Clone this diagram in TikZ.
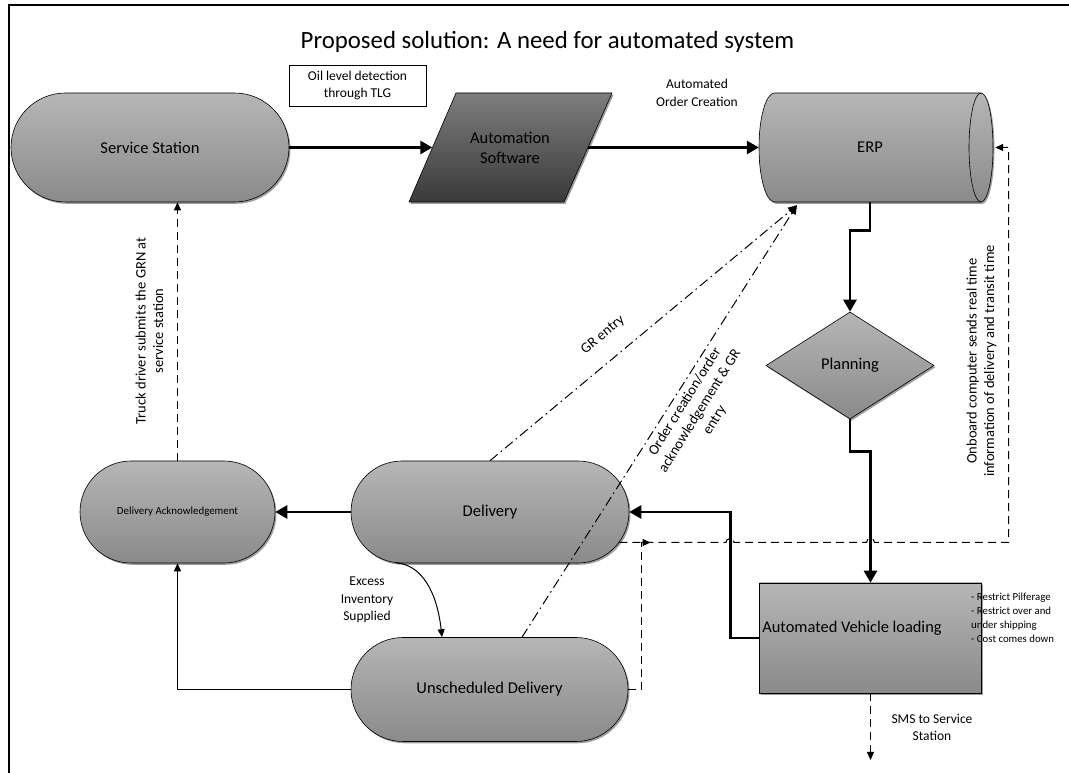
\documentclass[tikz,border=0pt]{standalone}
\usepackage{fontspec}
\setmainfont{Carlito}
\usetikzlibrary{arrows.meta,shapes.geometric,shadows,calc}
\definecolor{ltop}{RGB}{182,182,182}
\definecolor{lbot}{RGB}{138,138,138}
\definecolor{dtop}{RGB}{125,125,125}
\definecolor{dbot}{RGB}{58,58,58}
\begin{document}
\begin{tikzpicture}[x=1pt,y=1pt,
  shd/.style={drop shadow={shadow xshift=1.5pt,shadow yshift=-1.8pt,fill=black!55,opacity=0.7}},
  lshade/.style={top color=ltop,bottom color=lbot,draw=black,line width=0.6pt,shd},
  dshade/.style={top color=dtop,bottom color=dbot,draw=black,line width=0.6pt,shd},
  term/.style={lshade,rectangle,rounded corners=#1,inner sep=0pt},
  big/.style={font=\fontsize{16.5}{20}\selectfont},
  lab/.style={font=\fontsize{13.5}{17.5}\selectfont,align=center,inner sep=0pt},
  rlab/.style={font=\fontsize{14.5}{17.5}\selectfont,align=center,inner sep=0pt},
  thickarrow/.style={line width=2.8pt,-{Triangle[length=12pt,width=13pt]}},
  thinarrow/.style={line width=1pt,-{Triangle[length=8pt,width=7pt]}},
  dasharrow/.style={line width=1pt,dash pattern=on 8pt off 5pt,-{Triangle[length=8pt,width=7pt]}},
  ddarrow/.style={line width=1pt,dash pattern=on 10pt off 4pt on 1.5pt off 4pt,-{Triangle[length=9pt,width=8pt]}}
]
\useasboundingbox (0,0) rectangle (1069,773);
% frame
\draw[line width=2pt] (1069,768) -- (8.5,768) -- (8.5,0);

% title
\node[font=\fontsize{24.8}{28}\selectfont] (title) at (547.5,731) {Proposed solution: A need for automated system};

% Service Station
\node[term=54.5pt,minimum width=278pt,minimum height=109pt,big] (ss) at (150,625.5) {Service Station};
% Oil level box
\node[draw,line width=0.6pt,minimum width=137pt,minimum height=41pt,lab] (oil) at (357.5,687.5) {Oil level detection\\through TLG};
% Automation Software parallelogram
\path[dshade] (409,571) -- (564,571) -- (612,680) -- (456,680) -- cycle;
\node[minimum width=155pt,minimum height=109pt,inner sep=0pt,align=center,big] (as) at (510,625.5) {Automation\\Software};

% ERP cylinder
\path[lshade] (981,680) -- (774.5,680) arc[start angle=90,end angle=270,x radius=15.5,y radius=54.5] -- (981,571) arc[start angle=-90,end angle=90,x radius=12,y radius=54.5] -- cycle;
\draw[line width=0.6pt] (981,680) arc[start angle=90,end angle=270,x radius=12,y radius=54.5];
\node[minimum width=222pt,minimum height=109pt,inner sep=0pt,big] (erp) at (870,625.5) {ERP};

% Planning
\node[diamond,lshade,minimum width=168pt,minimum height=107pt,inner sep=0pt,big] (plan) at (850,407.5) {Planning};

% Automated Vehicle loading
\node[lshade,rectangle,minimum width=222pt,minimum height=110pt] (avl) at (870.5,135) {};
\node[font=\fontsize{16.4}{19}\selectfont,inner sep=0pt] (avlt) at (852,145) {Automated Vehicle loading};
\node[anchor=north west,align=left,inner sep=0pt,font=\fontsize{10.8}{14}\selectfont] (notes) at (971,180) {- Restrict Pilferage\\- Restrict over and\\under shipping\\- Cost comes down};

% Delivery, Delivery Acknowledgement, Unscheduled Delivery
\node[term=51pt,minimum width=278pt,minimum height=102pt,big] (del) at (490,261) {Delivery};
\node[term=51pt,minimum width=195pt,minimum height=102pt,font=\fontsize{10.9}{13}\selectfont] (da) at (177.5,261) {Delivery Acknowledgement};
\node[term=52pt,minimum width=277pt,minimum height=104pt,big] (ud) at (489.5,83.5) {Unscheduled Delivery};

% main thick flows
\draw[thickarrow] (ss.east) -- (as.west);
\draw[thickarrow] (as.east) -- (erp.west);
\draw[thickarrow] (erp.south) -- ++(0,-28) -| (plan.north);
\draw[thickarrow] (plan.south) -- ++(0,-32) -| (avl.north);
\draw[thickarrow] (avl.west) -- ++(-29,0) |- (del.east);
\draw[thickarrow] (del.west) -- (da.east);

% thin flows
\draw[thinarrow] (ud.west) -| (da.south);
\draw[thinarrow] ([xshift=-94pt,yshift=0.5pt]del.south) .. controls +(26,-2) and +(-5,45) .. ([xshift=-47.5pt]ud.north);

% dashed flows
\draw[dasharrow] (da.north) -- (da.north |- ss.south);
\coordinate (dstart) at ([shift={(-10pt,-30.5pt)}]del.east);
\draw[dasharrow] (dstart) -- (726,230.5) arc[start angle=180,end angle=0,radius=4] -- (866.5,230.5) arc[start angle=180,end angle=0,radius=4] -- (1008.5,230.5) -- (1008.5,625.5) -- ([xshift=14pt]erp.east);
\draw[dasharrow] (ud.east) -- ++(13.5,0) |- (650.5,230.5);
\coordinate (smsend) at (870.5,13);
\draw[dasharrow] (avl.south) -- (smsend);

% dash-dot flows to ERP
\coordinate (erpin) at ([shift={(-73pt,-3pt)}]erp.south);
\draw[ddarrow] (del.north) -- (erpin);
\draw[ddarrow] ([xshift=32.5pt]ud.north) -- (erpin);

% labels
\node[lab] (aoc) at (697,680) {Automated\\Order Creation};
\node[rlab,rotate=90] (truck) at (149.5,442) {Truck driver submits the GRN at\\service station};
\node[rlab,rotate=90] (onb) at (981.5,412) {Onboard computer sends real time\\information of delivery and transit time};
\node[lab] (exc) at (367,173) {Excess\\Inventory\\Supplied};
\node[rlab,rotate=39.7] (gr) at (603,438) {GR entry};
\node[rlab,rotate=58] (ord) at (700,362) {Order creation/order\\acknowledgement \& GR\\entry};
\node[lab] (sms) at (932,45.5) {SMS to Service\\Station};
\end{tikzpicture}
\end{document}
